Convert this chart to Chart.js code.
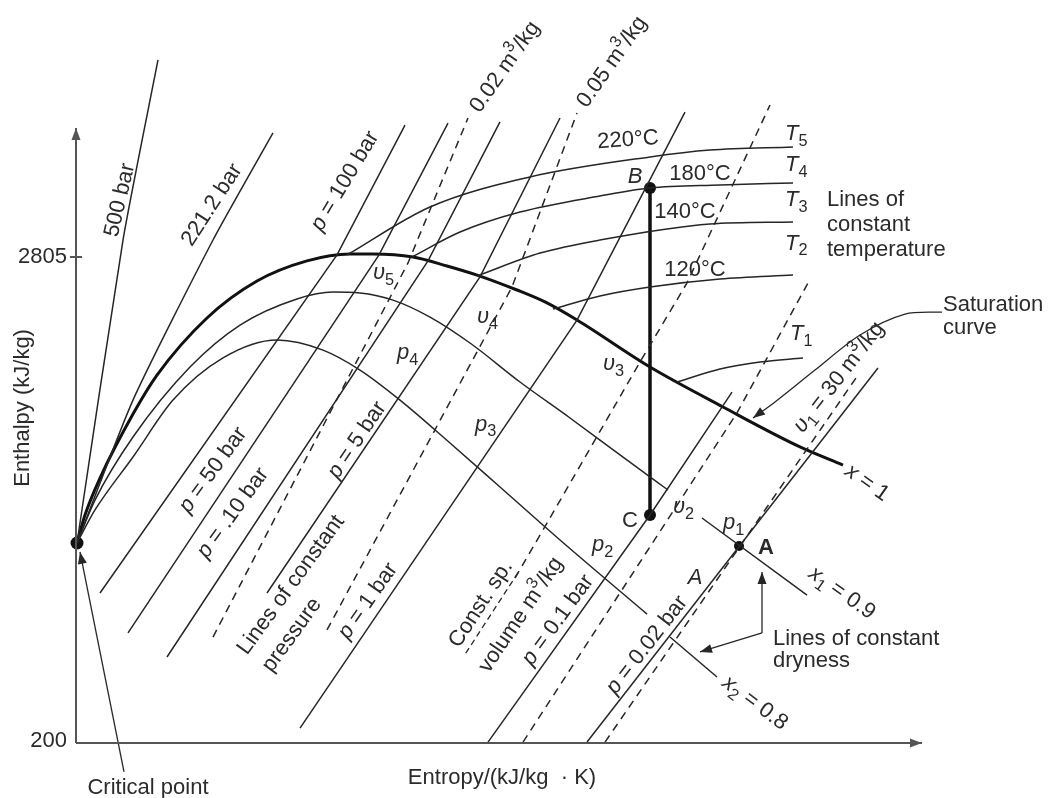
<!DOCTYPE html>
<html><head><meta charset="utf-8">
<script src="https://cdn.jsdelivr.net/npm/chart.js@4.4.1/dist/chart.umd.min.js"></script>
<style>html,body{margin:0;padding:0;background:#fff}#wrap{width:1050px;height:798px;position:relative}</style>
</head><body><div id="wrap"><canvas id="c"></canvas></div>
<script>
// ---- data (entropy s, enthalpy h in kJ/kg) ----
const yTicks = [200, 2805];
const satS = [0.01,0.09,0.24,0.57,0.81,1.31,1.81,2.31,2.74,2.97,3.37,3.71,4.01,4.41,4.69,5.01,5.74,6.47,7.24,7.67];
const satH = [1272,1422,1620,1963,2172,2478,2676,2784,2821,2821,2805,2757,2708,2628,2564,2467,2215,2001,1787,1690];
const wetUpperS = [0.01,0.19,0.57,1.14,1.64,2.21,2.57,2.84,3.17,3.54,3.94,4.44,4.94,5.44,5.92];
const wetUpperH = [1272,1502,1840,2215,2440,2580,2617,2612,2574,2483,2344,2135,1942,1744,1556];
const x1S = [6.26,7.31], x1H = [1406,993];
const wetLowerS = [0.01,0.19,0.57,0.97,1.47,2.01,2.47,2.84,3.24,3.74,4.24,4.84,5.71];
const wetLowerH = [1272,1449,1733,2038,2264,2360,2306,2199,2038,1808,1572,1288,891];
const x2S = [5.94,6.41], x2H = [768,554];
// constant pressure lines
const p500S = [0.01,0.47,0.82], p500H = [1272,2896,3861];
const p221S = [0.01,0.57,1.37,1.97], p221H = [1272,2038,2896,3470];
const p100S = [0.24,2.61,3.29], p100H = [1004,2816,3512];
const p50S = [0.52,3.03,3.72], p50H = [790,2816,3523];
const p10S = [0.91,3.52,4.24], p10H = [661,2784,3529];
const p5S = [1.91,4.04,4.84], p5H = [1004,2698,3550];
const p1S = [2.24,5.01,6.09], p1H = [280,2467,3582];
const p01S = [4.12,5.74,6.56], p01H = [205,1422,2081];
const p002S = [5.11,8.02], p002H = [205,2210];
// constant volume lines (dashed)
const v002S = [1.37,3.32,3.92], v002H = [768,2773,3550];
const v005S = [2.51,4.36,5.01], v005H = [806,2644,3577];
const v3S = [4.39,4.71,5.64,6.11,6.94], v3H = [1084,1379,2242,2666,3620];
const v2S = [4.47,6.61,7.32], v2H = [205,1969,2666];
const v30S = [5.29,7.82], v30H = [205,2172];
// constant temperature lines
const t5S = [2.71,3.54,4.54,5.74,6.34,7.17], t5H = [2816,3073,3234,3341,3378,3395];
const t4S = [3.36,3.84,4.44,5.24,5.74,6.44,7.17], t4H = [2805,2939,3046,3132,3175,3191,3202];
const t3S = [4.01,4.64,5.24,6.34,7.17], t3H = [2703,2826,2896,2982,2993];
const t2S = [4.77,5.24,5.74,6.44,7.17], t2H = [2526,2596,2644,2687,2708];
const t1S = [6.01,6.44,6.84,7.27], t1H = [2135,2205,2242,2264];
// process B-C and marked states
const bcS = [5.74,5.74], bcH = [3175,1422];
const critPt = [0.01,1272], ptA = [6.63,1256], ptB = [5.74,3175], ptC = [5.74,1422];
// axes extents
const axisS = [0,8.46], axisH = [200,3496];

// ---- styles ----
const INK = '#262626', AX = '#555';
const FONT = '"Liberation Sans", Arial, Helvetica, sans-serif';
const DASH = [8,6];
const pts = (S,H) => S.map((s,i)=>({x:s,y:H[i]}));
function ln(S,H,o){return Object.assign({data:pts(S,H),showLine:true,pointRadius:0,borderColor:INK,borderWidth:1.5,tension:0,fill:false},o||{});}
const curve = {cubicInterpolationMode:'monotone'};
const dashed = {borderDash:DASH};

const datasets = [
  ln([axisS[0],axisS[0]],[axisH[0],axisH[1]],{borderColor:AX,borderWidth:2,arrow:true}),
  ln([axisS[0],axisS[1]],[axisH[0],axisH[0]],{borderColor:AX,borderWidth:2,arrow:true}),
  ln([-0.06,0.06],[yTicks[1],yTicks[1]],{borderColor:AX,borderWidth:2}),
  ln(p500S,p500H,{tension:0.2}), ln(p221S,p221H,{tension:0.2}),
  ln(p100S,p100H), ln(p50S,p50H), ln(p10S,p10H), ln(p5S,p5H), ln(p1S,p1H), ln(p01S,p01H), ln(p002S,p002H),
  ln(v002S,v002H,dashed), ln(v005S,v005H,dashed), ln(v3S,v3H,dashed), ln(v2S,v2H,dashed), ln(v30S,v30H,dashed),
  ln(t5S,t5H,curve), ln(t4S,t4H,curve), ln(t3S,t3H,curve), ln(t2S,t2H,curve), ln(t1S,t1H,curve),
  ln(wetUpperS,wetUpperH,curve), ln(wetLowerS,wetLowerH,curve), ln(x1S,x1H), ln(x2S,x2H),
  ln(satS,satH,Object.assign({borderWidth:3,borderColor:'#111'},curve)),
  ln(bcS,bcH,{borderWidth:3.5,borderColor:'#111'}),
  // pointers
  ln([8.66,8.29,7.84,7.39,6.99,6.77],[2510,2499,2387,2199,2028,1942],{tension:0.3,borderWidth:1.3,arrow:true}),
  ln([6.86,6.86],[790,1117],{borderWidth:1.3,arrow:true}),
  ln([6.86,6.24],[790,688],{borderWidth:1.3,arrow:true}),
  ln([0.48,0.04],[45,1224],{borderWidth:1.3,arrow:true}),
  // points
  {data:[{x:critPt[0],y:critPt[1]}],pointRadius:6.5,pointBackgroundColor:'#111',pointBorderWidth:0,showLine:false},
  {data:[{x:ptB[0],y:ptB[1]},{x:ptC[0],y:ptC[1]}],pointRadius:6,pointBackgroundColor:'#111',pointBorderWidth:0,showLine:false},
  {data:[{x:ptA[0],y:ptA[1]}],pointRadius:5,pointBackgroundColor:'#111',pointBorderWidth:0,showLine:false}
];

// ---- text annotations: parts [text, style], anchor (s,h), rotation deg ----
const LBL = [
 {t:[['500 bar','']],s:0.44,h:3110,r:-77},
 {t:[['221.2 bar','']],s:1.36,h:3084,r:-57},
 {t:[['p','it'],[' = 100 bar','']],s:2.69,h:3212,r:-59},
 {t:[['p','it'],[' = 50 bar','']],s:1.37,h:1663,r:-54},
 {t:[['p','it'],[' = .10 bar','']],s:1.57,h:1433,r:-54},
 {t:[['Lines of constant','']],s:2.15,h:1047,r:-54},
 {t:[['pressure','']],s:2.16,h:779,r:-54},
 {t:[['p','it'],[' = 5 bar','']],s:2.81,h:1824,r:-56},
 {t:[['p','it'],[' = 1 bar','']],s:2.92,h:961,r:-55},
 {t:[['Const. sp.','']],s:4.05,h:945,r:-57,ul:true},
 {t:[['volume m',''],['3','sup'],['/kg','']],s:4.45,h:886,r:-56},
 {t:[['p','it'],[' = 0.1 bar','']],s:4.82,h:859,r:-54},
 {t:[['p','it'],[' = 0.02 bar','']],s:5.71,h:725,r:-52},
 {t:[['0.02 m',''],['3','sup'],['/kg','']],s:4.29,h:3823,r:-55},
 {t:[['0.05 m',''],['3','sup'],['/kg','']],s:5.36,h:3850,r:-55},
 {t:[['υ','it'],['1','sub'],[' = 30 m',''],['3','sup'],['/kg','']],s:7.63,h:2160,r:-52},
 {t:[['x','it'],[' = 1','']],s:7.91,h:1594,r:35},
 {t:[['x','it'],['1','sub'],[' = 0.9','']],s:7.66,h:1004,r:35},
 {t:[['x','it'],['2','sub'],[' = 0.8','']],s:6.79,h:414,r:37},
 {t:[['220°C','']],s:5.52,h:3432,r:-4},
 {t:[['180°C','']],s:6.24,h:3250},
 {t:[['140°C','']],s:6.09,h:3046},
 {t:[['120°C','']],s:6.19,h:2735},
 {t:[['T','it'],['5','sub']],s:7.09,h:3464,a:'left'},
 {t:[['T','it'],['4','sub']],s:7.09,h:3298,a:'left'},
 {t:[['T','it'],['3','sub']],s:7.09,h:3110,a:'left'},
 {t:[['T','it'],['2','sub']],s:7.09,h:2875,a:'left'},
 {t:[['T','it'],['1','sub']],s:7.14,h:2392,a:'left'},
 {t:[['Lines of','']],s:7.51,h:3110,a:'left'},
 {t:[['constant','']],s:7.51,h:2977,a:'left'},
 {t:[['temperature','']],s:7.51,h:2842,a:'left'},
 {t:[['Saturation','']],s:8.67,h:2548,a:'left'},
 {t:[['curve','']],s:8.67,h:2424,a:'left'},
 {t:[['Lines of constant','']],s:6.97,h:757,a:'left'},
 {t:[['dryness','']],s:6.97,h:640,a:'left'},
 {t:[['Critical point','']],s:0.72,h:-41},
 {t:[['Entropy/(kJ/kg  · K)','']],s:4.26,h:12},
 {t:[['Enthalpy (kJ/kg)','']],s:-0.53,h:1996,r:-90},
 {t:[[String(yTicks[1]),'']],s:-0.09,h:yTicks[1],a:'right'},
 {t:[[String(yTicks[0]),'']],s:-0.09,h:yTicks[0]+10,a:'right'},
 {t:[['B','it']],s:5.59,h:3234},
 {t:[['C','']],s:5.54,h:1390},
 {t:[['A','it']],s:6.19,h:1084},
 {t:[['A','bd']],s:6.90,h:1245},
 {t:[['p','it'],['1','sub']],s:6.47,h:1379,a:'left'},
 {t:[['p','it'],['2','sub']],s:5.16,h:1261,a:'left'},
 {t:[['p','it'],['3','sub']],s:3.99,h:1905,a:'left'},
 {t:[['p','it'],['4','sub']],s:3.21,h:2290,a:'left'},
 {t:[['υ','it'],['5','sub']],s:2.97,h:2719,a:'left'},
 {t:[['υ','it'],['4','sub']],s:4.01,h:2483,a:'left'},
 {t:[['υ','it'],['3','sub']],s:5.27,h:2231,a:'left'},
 {t:[['υ','it'],['2','sub']],s:5.97,h:1465,a:'left'}
];

function drawRich(ctx, parts, size, align){
  const pcs = parts.map(([t,st])=>{
    const f = st.split(' ');
    const small = f.includes('sub')||f.includes('sup');
    const fs = small ? size*0.74 : size;
    const font = (f.includes('it')?'italic ':'')+(f.includes('bd')?'bold ':'')+fs.toFixed(1)+'px '+FONT;
    ctx.font = font;
    return {t, font, w:ctx.measureText(t).width, dy: f.includes('sub')?size*0.32:(f.includes('sup')?-size*0.36:0)};
  });
  const total = pcs.reduce((a,p)=>a+p.w,0);
  let x = align==='left'?0:(align==='right'?-total:-total/2);
  const x0 = x;
  for(const p of pcs){ctx.font=p.font;ctx.fillText(p.t,x,p.dy);x+=p.w;}
  return [x0,total];
}

const annot = {
  id:'annot',
  afterDatasetsDraw(chart){
    const ctx = chart.ctx, xs = chart.scales.x, ys = chart.scales.y;
    chart.data.datasets.forEach((ds,i)=>{
      if(!ds.arrow) return;
      const d = chart.getDatasetMeta(i).data, n = d.length;
      const a = d[n-2], b = d[n-1];
      const ang = Math.atan2(b.y-a.y,b.x-a.x), L = 12, W = 4.5;
      ctx.save(); ctx.fillStyle = ds.borderColor; ctx.beginPath();
      ctx.moveTo(b.x,b.y);
      ctx.lineTo(b.x-L*Math.cos(ang)+W*Math.sin(ang), b.y-L*Math.sin(ang)-W*Math.cos(ang));
      ctx.lineTo(b.x-L*Math.cos(ang)-W*Math.sin(ang), b.y-L*Math.sin(ang)+W*Math.cos(ang));
      ctx.closePath(); ctx.fill(); ctx.restore();
    });
    ctx.save(); ctx.fillStyle = '#2b2b2b'; ctx.textBaseline = 'middle';
    for(const l of LBL){
      ctx.save();
      ctx.translate(xs.getPixelForValue(l.s), ys.getPixelForValue(l.h));
      ctx.rotate((l.r||0)*Math.PI/180);
      const [x0,w] = drawRich(ctx,l.t,l.z||22,l.a||'center');
      if(l.ul){ctx.strokeStyle=INK;ctx.lineWidth=1.3;ctx.setLineDash([6,4]);ctx.beginPath();ctx.moveTo(x0,14);ctx.lineTo(x0+w,14);ctx.stroke();}
      ctx.restore();
    }
    ctx.restore();
  }
};

new Chart(document.getElementById('c'),{
  type:'scatter',
  data:{datasets},
  options:{
    responsive:true, maintainAspectRatio:false, animation:false, events:[],
    layout:{padding:0, autoPadding:false},
    plugins:{legend:{display:false},tooltip:{enabled:false}},
    scales:{
      x:{type:'linear',min:-0.76,max:9.74,display:false},
      y:{type:'linear',min:-94.8,max:4182.5,display:false}
    }
  },
  plugins:[annot]
});
</script></body></html>
